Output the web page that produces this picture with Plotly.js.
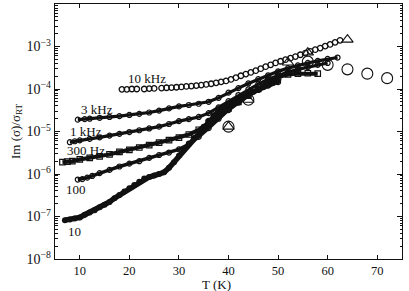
<!DOCTYPE html>
<html>
<head>
<meta charset="utf-8">
<script src="https://cdn.plot.ly/plotly-3.0.1.min.js"></script>
<style>html,body{margin:0;padding:0;background:#fff;}#chart{width:409px;height:291px;}</style>
</head>
<body>
<div id="chart"></div>
<script>
// ---- data ----
const T_10kHz = [18.5,19.5,20.5,21.5,23,24,25,26.5,27.5,28.5,29.5,30.5,31.5,32.5,33.5,34.5,35.5,36.5,37.5,38.5,39.5,40.5,41.5,42.5,43.5,44.5,45.5,46.5,47.5,48.5,49.5,50.5,51.5,52.5,53.5,54.5,55.5,56.5,57.5,58.5,59.5,60.5,61.5,62.5];
const V_10kHz = [9.8e-5,9.8e-5,1.0e-4,1.0e-4,1.0e-4,1.02e-4,1.03e-4,1.05e-4,1.07e-4,1.08e-4,1.1e-4,1.12e-4,1.15e-4,1.17e-4,1.2e-4,1.24e-4,1.28e-4,1.33e-4,1.4e-4,1.47e-4,1.55e-4,1.68e-4,1.85e-4,2.05e-4,2.25e-4,2.45e-4,2.7e-4,3.0e-4,3.35e-4,3.7e-4,4.1e-4,4.5e-4,4.9e-4,5.3e-4,5.8e-4,6.4e-4,7.0e-4,7.7e-4,8.4e-4,9.2e-4,1.02e-3,1.12e-3,1.25e-3,1.4e-3];

const T_3kHz = [9.6,11,12,14,16,18,20,22,24,26,28,30,32,34,36,38,40,42,44,46,48,50,52,54,56,58,60,62];
const V_3kHz = [1.9e-5,1.95e-5,2.0e-5,2.1e-5,2.2e-5,2.3e-5,2.45e-5,2.6e-5,2.8e-5,3.1e-5,3.5e-5,3.9e-5,4.2e-5,4.5e-5,5.0e-5,6.2e-5,8.2e-5,1.05e-4,1.35e-4,1.7e-4,2.1e-4,2.6e-4,3.1e-4,3.6e-4,4.1e-4,4.6e-4,5.1e-4,5.5e-4];

const T_1kHz = [8,9,10,12,14,16,18,20,22,24,26,28,30,32,34,36,38,40,42,44,46,48,50,52,54,56,58,60];
const V_1kHz = [5.6e-6,5.9e-6,6.2e-6,6.7e-6,7.3e-6,8.0e-6,8.8e-6,9.7e-6,1.07e-5,1.18e-5,1.3e-5,1.5e-5,1.75e-5,1.95e-5,2.2e-5,2.7e-5,3.7e-5,5.2e-5,7.2e-5,9.8e-5,1.3e-4,1.7e-4,2.1e-4,2.5e-4,2.9e-4,3.3e-4,3.7e-4,4.1e-4];

const T_300Hz = [6.5,7.5,8.5,10,12,14,16,18,20,22,24,26,28,30,32,34,36,38,40,42,44,46,48,50,52,54,56,58];
const V_300Hz = [1.9e-6,1.95e-6,2.0e-6,2.2e-6,2.4e-6,2.6e-6,2.9e-6,3.3e-6,3.7e-6,4.2e-6,4.8e-6,5.5e-6,6.3e-6,7.2e-6,8.5e-6,1.1e-5,1.6e-5,2.4e-5,3.5e-5,5.0e-5,7.0e-5,1.0e-4,1.5e-4,1.9e-4,2.2e-4,2.3e-4,2.35e-4,2.3e-4];

const T_100Hz = [9.6,10.5,11.5,12.5,14,16,18,20,22,24,26,28,30,32,34,36,38,40,42,44,46,48,50];
const V_100Hz = [7.4e-7,7.6e-7,8.2e-7,9.0e-7,1.05e-6,1.25e-6,1.5e-6,1.75e-6,2.0e-6,2.4e-6,2.8e-6,3.2e-6,3.8e-6,5.0e-6,7.5e-6,1.2e-5,2.0e-5,3.2e-5,4.8e-5,7.0e-5,9.5e-5,1.2e-4,1.45e-4];

const T_10Hz = [7,8,9,10,11,12,13,14,15,16,17,18,19,20,21,22,23,24,25,26,27,28,29,30,31,32,33,34,35,36,37,38,39,40,41,42,43,44,45,46,47,48,49,50];
const V_10Hz = [8.2e-8,8.5e-8,9.0e-8,9.5e-8,1.1e-7,1.25e-7,1.4e-7,1.65e-7,1.9e-7,2.2e-7,2.7e-7,3.2e-7,3.9e-7,4.6e-7,5.5e-7,6.6e-7,7.8e-7,8.5e-7,9.2e-7,1.0e-6,1.1e-6,1.4e-6,1.9e-6,2.7e-6,3.8e-6,5.2e-6,7.0e-6,9.5e-6,1.3e-5,1.8e-5,2.4e-5,3.0e-5,3.6e-5,4.2e-5,4.9e-5,5.7e-5,6.6e-5,7.5e-5,8.6e-5,9.8e-5,1.1e-4,1.25e-4,1.4e-4,1.55e-4];

const T_bigCircle = [40,44,56,60,64,68,72];
const V_bigCircle = [1.3e-5,5.6e-5,4.4e-4,3.7e-4,2.9e-4,2.3e-4,1.8e-4];
const T_triangle = [40,44,52,56,64];
const V_triangle = [1.3e-5,5.6e-5,4.2e-4,7.2e-4,1.45e-3];

const labels = ['10 kHz','3 kHz','1 kHz','300 Hz','100','10'];
const labelT = [23.6,13.4,11.2,11.3,9.3,9.0];
const labelV = [1.8e-4,3.3e-5,9.8e-6,3.6e-6,4.4e-7,4.5e-8];

const yTickVals = [1e-8,1e-7,1e-6,1e-5,1e-4,1e-3];
const yTickText = ['10<sup>−8</sup>','10<sup>−7</sup>','10<sup>−6</sup>','10<sup>−5</sup>','10<sup>−4</sup>','10<sup>−3</sup>'];
const xTickVals = [10,20,30,40,50,60,70];

// ---- build ----
const K = '#111';
const font = 'Liberation Serif, Times New Roman, serif';
const traces = [
  {x:T_10Hz, y:V_10Hz, mode:'lines+markers', line:{color:K,width:5.5}, marker:{symbol:'circle',size:6,color:K}},
  {x:T_100Hz, y:V_100Hz, mode:'lines+markers', line:{color:K,width:3.5}, marker:{symbol:'circle-open',size:5,color:K,line:{width:1.2}}},
  {x:T_300Hz, y:V_300Hz, mode:'lines+markers', line:{color:K,width:4}, marker:{symbol:'square-open',size:5.5,color:K,line:{width:1.2}}},
  {x:T_1kHz, y:V_1kHz, mode:'lines+markers', line:{color:K,width:3.2}, marker:{symbol:'circle-open',size:5,color:K,line:{width:1.2}}},
  {x:T_3kHz, y:V_3kHz, mode:'lines+markers', line:{color:K,width:3.2}, marker:{symbol:'circle-open',size:5,color:K,line:{width:1.2}}},
  {x:T_10kHz, y:V_10kHz, mode:'markers', marker:{symbol:'circle-open',size:5.5,color:K,line:{width:1.3}}},
  {x:T_bigCircle, y:V_bigCircle, mode:'markers', marker:{symbol:'circle-open',size:11,color:K,line:{width:1.1}}},
  {x:T_triangle, y:V_triangle, mode:'markers', marker:{symbol:'triangle-up-open',size:10,color:K,line:{width:1.1}}}
];

const minorVals = [];
for (let e=-8; e<-2; e++) for (let m=2; m<10; m++) minorVals.push(m*Math.pow(10,e));

const annotations = labels.map((t,i)=>({
  x:labelT[i], y:Math.log10(labelV[i]), xref:'x', yref:'y', text:t, showarrow:false,
  font:{family:font,size:13,color:K}
}));
annotations.push({x:0.465, y:-0.1, xref:'paper', yref:'paper', yanchor:'middle', xanchor:'center',
  text:'T (K)', showarrow:false, borderpad:0, font:{family:font,size:13,color:K}});

const layout = {
  width:409, height:291,
  margin:{l:55,r:7,t:4,b:32},
  paper_bgcolor:'#fff', plot_bgcolor:'#fff',
  showlegend:false,
  font:{family:font,size:13,color:K},
  xaxis:{range:[5,75], tickvals:xTickVals, ticks:'inside', ticklen:4, tickcolor:K,
    showline:true, linecolor:K, linewidth:1.2, mirror:'ticks', showgrid:false, zeroline:false,
    tickfont:{family:font,size:12.5,color:K}},
  yaxis:{type:'log', range:[-8,-2], tickvals:yTickVals, ticktext:yTickText, ticks:'inside', ticklen:5, tickcolor:K,
    showline:true, linecolor:K, linewidth:1.2, mirror:'ticks', showgrid:false, zeroline:false,
    tickfont:{family:font,size:14,color:K},
    minor:{tickmode:'array', tickvals:minorVals, ticks:'inside', ticklen:2.5, tickcolor:K, showgrid:false},
    title:{text:'Im (σ)/σ<sub>RT</sub>', font:{family:font,size:13,color:K}, standoff:3}},
  annotations: annotations
};

Plotly.newPlot('chart', traces, layout, {staticPlot:true, displayModeBar:false});
</script>
</body>
</html>
